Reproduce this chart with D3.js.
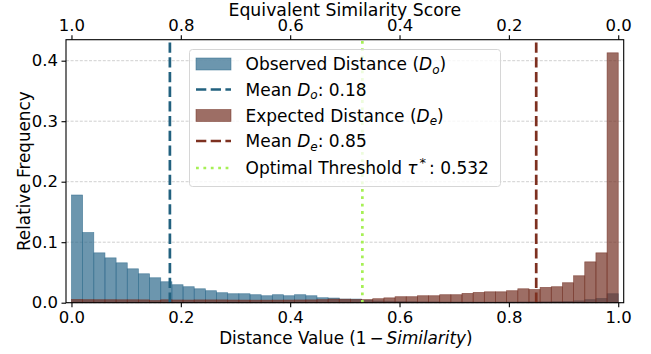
<!DOCTYPE html>
<html>
<head>
<meta charset="utf-8">
<script src="https://cdn.jsdelivr.net/npm/d3@7"></script>
<style>
  body { margin: 0; background: #fff; }
  text { font-family: "DejaVu Sans", sans-serif; fill: #000; }
</style>
</head>
<body>
<svg id="chart" width="651" height="354"></svg>
<script>
// histogram bins: 49 equal bins over [0, 1]
const binEdges = d3.range(50).map(i => i / 49);

// relative frequency per bin
const observedFreq = [
  0.178, 0.116, 0.0824, 0.0741, 0.0659, 0.056, 0.0478, 0.0412, 0.0346, 0.0297,
  0.0264, 0.023, 0.0198, 0.0165, 0.0148, 0.0148, 0.0132, 0.0115, 0.0132, 0.0115,
  0.0132, 0.0115, 0.0082, 0.0077, 0.006, 0.006, 0.0035, 0.0028, 0.0025, 0.002,
  0.0018, 0.0015, 0.0014, 0.0012, 0.0012, 0.0011, 0.001, 0.001, 0.0011, 0.0012,
  0.0013, 0.0014, 0.0015, 0.0018, 0.0022, 0.003, 0.005, 0.007, 0.0148
];
const expectedFreq = [
  0.0054, 0.005, 0.0049, 0.0049, 0.0048, 0.0048, 0.0047, 0.0035, 0.0048, 0.0045,
  0.0044, 0.0046, 0.0046, 0.0046, 0.0044, 0.0043, 0.0042, 0.0042, 0.0043, 0.0044,
  0.0045, 0.0046, 0.005, 0.006, 0.0058, 0.0052, 0.0052, 0.0066, 0.008, 0.0099,
  0.0099, 0.0115, 0.0115, 0.0132, 0.0132, 0.0154, 0.017, 0.018, 0.018, 0.0198,
  0.023, 0.0218, 0.0253, 0.0264, 0.033, 0.0445, 0.0675, 0.0824, 0.413
];

const meanObserved = 0.18;
const meanExpected = 0.85;
const optimalThreshold = 0.532;

const xTicks = [0, 0.2, 0.4, 0.6, 0.8, 1.0];
const yTicks = [0, 0.1, 0.2, 0.3, 0.4];

const COLORS = {
  observed: '#2e6a8c',
  expected: '#743124',
  meanObs: '#22617f',
  meanExp: '#7d3020',
  threshold: '#a6f055'
};

const svg = d3.select('#chart');
const plotLeft = 66, plotRight = 623.7, plotTop = 39.7, plotBottom = 302.7;

const x = d3.scaleLinear().domain([-0.01, 1.01]).range([plotLeft, plotRight]);
const y = d3.scaleLinear().domain([0, 0.4347]).range([plotBottom, plotTop]);

// horizontal grid behind everything
svg.append('g')
  .selectAll('line')
  .data(yTicks)
  .join('line')
  .attr('x1', plotLeft).attr('x2', plotRight)
  .attr('y1', d => y(d)).attr('y2', d => y(d))
  .attr('stroke', '#c4c4c4')
  .attr('stroke-width', 0.8)
  .attr('stroke-dasharray', '3,1.6');

// histogram bars, observed first then expected on top
function drawHist(values, color) {
  svg.append('g')
    .selectAll('rect')
    .data(values)
    .join('rect')
    .attr('x', (d, i) => x(binEdges[i]))
    .attr('width', (d, i) => x(binEdges[i + 1]) - x(binEdges[i]))
    .attr('y', d => y(d))
    .attr('height', d => y(0) - y(d))
    .attr('fill', color)
    .attr('fill-opacity', 0.7)
    .attr('stroke', color)
    .attr('stroke-opacity', 0.7)
    .attr('stroke-width', 0.7);
}
drawHist(observedFreq, COLORS.observed);
drawHist(expectedFreq, COLORS.expected);

// vertical reference lines
const vlines = [
  { v: meanObserved, color: COLORS.meanObs, dash: '10.3,4.4' },
  { v: meanExpected, color: COLORS.meanExp, dash: '10.3,4.4' },
  { v: optimalThreshold, color: COLORS.threshold, dash: '2.8,4.6' }
];
svg.append('g')
  .selectAll('line')
  .data(vlines)
  .join('line')
  .attr('x1', d => x(d.v)).attr('x2', d => x(d.v))
  .attr('y1', plotBottom).attr('y2', plotTop)
  .attr('stroke', d => d.color)
  .attr('stroke-width', 2.7)
  .attr('stroke-dasharray', d => d.dash);

// axes
const fmt = d3.format('.1f');
const styleAxis = g => {
  g.select('.domain').remove();
  g.selectAll('.tick line').attr('stroke', '#000').attr('stroke-width', 1.1);
  g.selectAll('.tick text').style('font-size', '16.5px').attr('fill', '#000');
};

svg.append('g')
  .attr('transform', `translate(0,${plotBottom})`)
  .call(d3.axisBottom(x).tickValues(xTicks).tickFormat(fmt).tickSize(4.5).tickPadding(4))
  .call(styleAxis);

svg.append('g')
  .attr('transform', `translate(0,${plotTop})`)
  .call(d3.axisTop(x).tickValues(xTicks).tickFormat(d => fmt(1 - d)).tickSize(4.5).tickPadding(4.5))
  .call(styleAxis);

svg.append('g')
  .attr('transform', `translate(${plotLeft},0)`)
  .call(d3.axisLeft(y).tickValues(yTicks).tickFormat(fmt).tickSize(4.5).tickPadding(3.5))
  .call(styleAxis);

// frame
svg.append('rect')
  .attr('x', plotLeft).attr('y', plotTop)
  .attr('width', plotRight - plotLeft).attr('height', plotBottom - plotTop)
  .attr('fill', 'none')
  .attr('stroke', '#000')
  .attr('stroke-width', 1.1);

// axis titles
svg.append('text')
  .attr('x', (plotLeft + plotRight) / 2)
  .attr('y', 16)
  .attr('text-anchor', 'middle')
  .style('font-size', '17.3px')
  .text('Equivalent Similarity Score');

const xLabel = svg.append('text')
  .attr('x', (plotLeft + plotRight) / 2 + 1)
  .attr('y', 344)
  .attr('text-anchor', 'middle')
  .style('font-size', '16.8px');
xLabel.append('tspan').text('Distance Value (1');
xLabel.append('tspan').attr('dx', 3).text('\u2212');
xLabel.append('tspan').attr('dx', 3).style('font-style', 'italic').text('Similarity');
xLabel.append('tspan').text(')');

svg.append('text')
  .attr('transform', `translate(30,${(plotTop + plotBottom) / 2}) rotate(-90)`)
  .attr('text-anchor', 'middle')
  .style('font-size', '16.8px')
  .text('Relative Frequency');

// legend
const legend = svg.append('g');
legend.append('rect')
  .attr('x', 189.5).attr('y', 49.5)
  .attr('width', 311).attr('height', 137)
  .attr('rx', 3)
  .attr('fill', '#fff')
  .attr('fill-opacity', 0.8)
  .attr('stroke', '#d6d6d6')
  .attr('stroke-width', 1);

const legendItems = [
  { type: 'patch', color: COLORS.observed, parts: [['Observed Distance ('], ['D', 'i'], ['o', 'sub'], [')']] },
  { type: 'line', color: COLORS.meanObs, dash: '10.3,4.4', parts: [['Mean '], ['D', 'i'], ['o', 'sub'], [': 0.18']] },
  { type: 'patch', color: COLORS.expected, parts: [['Expected Distance ('], ['D', 'i'], ['e', 'sub'], [')']] },
  { type: 'line', color: COLORS.meanExp, dash: '10.3,4.4', parts: [['Mean '], ['D', 'i'], ['e', 'sub'], [': 0.85']] },
  { type: 'line', color: COLORS.threshold, dash: '2.8,4.6', parts: [['Optimal Threshold '], ['\u03c4', 'i'], ['*', 'sup'], [': 0.532']] }
];
const rowY = [64, 89.5, 115.5, 141, 168];

legendItems.forEach((item, i) => {
  const cy = rowY[i];
  if (item.type === 'patch') {
    legend.append('rect')
      .attr('x', 196).attr('y', cy - 6)
      .attr('width', 35).attr('height', 12)
      .attr('fill', item.color).attr('fill-opacity', 0.7)
      .attr('stroke', item.color).attr('stroke-opacity', 0.7)
      .attr('stroke-width', 0.7);
  } else {
    legend.append('line')
      .attr('x1', 196).attr('x2', 231)
      .attr('y1', cy).attr('y2', cy)
      .attr('stroke', item.color)
      .attr('stroke-width', 2.7)
      .attr('stroke-dasharray', item.dash);
  }
  const t = legend.append('text')
    .attr('x', 245.5)
    .attr('y', cy + 6)
    .style('font-size', '17px');
  item.parts.forEach(([str, kind], j) => {
    const span = t.append('tspan').text(str);
    if (kind === 'i') span.style('font-style', 'italic');
    if (kind === 'sub') span.style('font-style', 'italic').style('font-size', '12px').attr('dy', 3.5);
    if (kind === 'sup') span.style('font-size', '13px').attr('dy', -7).attr('dx', 2);
    // undo the shift of the previous sub/superscript
    const prev = j > 0 ? item.parts[j - 1][1] : null;
    if (prev === 'sub') span.attr('dy', -3.5);
    if (prev === 'sup') span.attr('dy', 7).attr('dx', 3);
  });
});
</script>
</body>
</html>
